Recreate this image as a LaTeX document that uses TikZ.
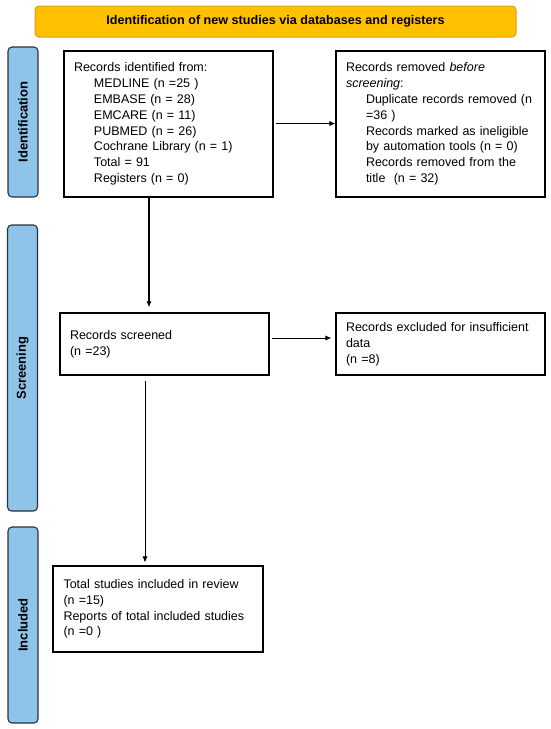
\documentclass[tikz,border=0pt]{standalone}
\usepackage{fontspec}
\setmainfont{Liberation Sans}
\usetikzlibrary{arrows.meta}

\definecolor{bannerfill}{RGB}{255,192,0}
\definecolor{bannerline}{RGB}{222,160,20}
\definecolor{phasefill}{RGB}{142,195,234}
\definecolor{phaseline}{RGB}{40,50,60}

\begin{document}
\begin{tikzpicture}[x=1pt,
            y=-1pt,
            >={Latex[length=6pt,width=5pt]},
            box/.style={draw, line width=1.1pt, text width=189pt, inner xsep=10pt,
                        align=left, font=\fontsize{12.5}{15.8}\selectfont},
            phase/.style={draw=phaseline, fill=phasefill, line width=1.1pt,
                          rounded corners=4pt, rotate=90, minimum height=30pt,
                          inner sep=0pt, font=\fontsize{13}{14}\selectfont\bfseries},
            thin/.style={->, line width=0.8pt},
            thick/.style={->, line width=1.8pt}]

        \useasboundingbox (0,0) rectangle (550,729);

        % header
        \node[draw=bannerline, fill=bannerfill, line width=1pt, rounded corners=4pt,
              minimum width=481pt, minimum height=31pt, inner sep=0pt,
              font=\fontsize{12.6}{14}\selectfont\bfseries]
              (head) at (275.5,21.5) {Identification of new studies via databases and registers};

        % phases on the left
        \node[phase, minimum width=150pt] (ident)  at (23,122)   {Identification};
        \node[phase, minimum width=286pt] (screen) at (22.5,368) {Screening};
        \node[phase, minimum width=196pt] (incl)   at (23,625)   {Included};

        % boxes
        \node[box, minimum height=146pt] (found) at (168.5,124) {Records identified from:\\
            \hspace*{20pt}MEDLINE (n =25 )\\
            \hspace*{20pt}EMBASE (n = 28)\\
            \hspace*{20pt}EMCARE (n = 11)\\
            \hspace*{20pt}PUBMED (n = 26)\\
            \hspace*{20pt}Cochrane Library (n = 1)\\
            \hspace*{20pt}Total = 91\\
            \hspace*{20pt}Registers (n = 0)};
        \node[box, minimum height=146pt] (removed) at (440.5,124) {Records removed \textit{before}\\
            \textit{screening}:\\
            \hspace*{20pt}Duplicate records removed (n\\
            \hspace*{20pt}=36 )\\
            \hspace*{20pt}Records marked as ineligible\\
            \hspace*{20pt}by automation tools (n = 0)\\
            \hspace*{20pt}Records removed from the\\
            \hspace*{20pt}title\ \ (n = 32)};
        \node[box, minimum height=62pt] (screened) at (164.5,344) {Records screened\\(n =23)};
        \node[box, minimum height=62pt] (excluded) at (440.5,344) {Records excluded for insufficient\\data\\(n =8)};
        \node[box, minimum height=86pt, inner xsep=10.5pt] (total) at (158,609) {Total studies included in review\\
            (n =15)\\
            Reports of total included studies\\
            (n =0 )};

        % connectors
        \coordinate (down1) at (149,0);
        \coordinate (down2) at (145,0);
        \draw[thin, shorten <=2pt] (found.east |- 0,123.5) -- (removed.west |- 0,123.5);
        \draw[thin, shorten <=2pt, shorten >=4pt] (screened.east |- 0,338) -- (excluded.west |- 0,338);
        \draw[thick, shorten >=5pt] (found.south -| down1) -- (screened.north -| down1);
        \draw[thin, shorten <=5pt, shorten >=3pt] (screened.south -| down2) -- (total.north -| down2);

    \end{tikzpicture}
\end{document}
